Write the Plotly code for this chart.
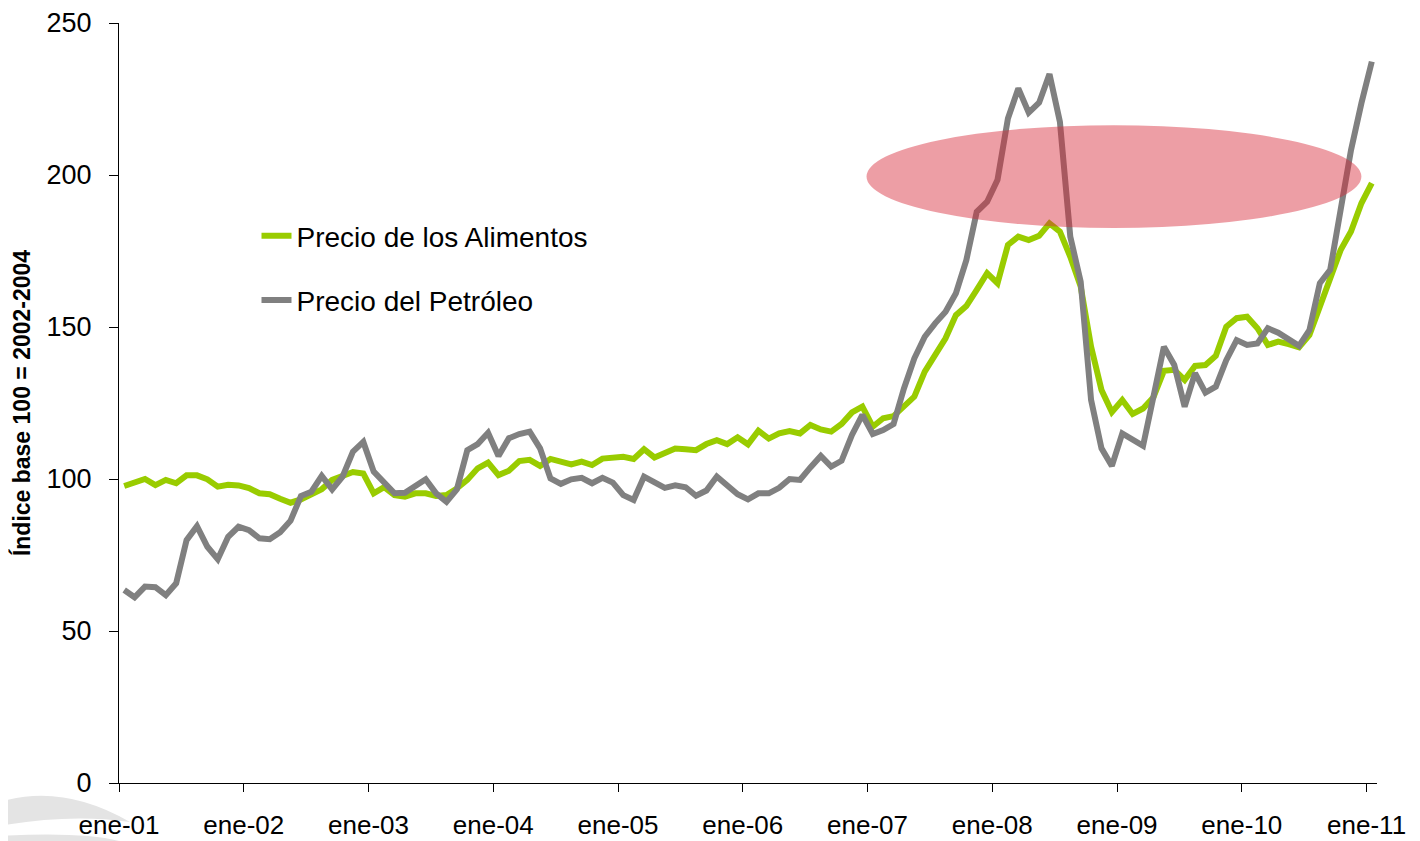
import plotly.graph_objects as go

# Month index 0 = ene-01 ... 120 = ene-11
tick_labels = ["ene-01", "ene-02", "ene-03", "ene-04", "ene-05", "ene-06",
               "ene-07", "ene-08", "ene-09", "ene-10", "ene-11"]

alimentos = [
    97.7, 98.6, 100.0, 98.0, 99.7, 98.6, 101.2, 101.2, 99.9, 97.5, 98.1, 97.9,
    97.0, 95.3, 95.0, 93.5, 92.2, 93.3, 94.8, 96.6, 99.7, 100.8, 102.3, 101.8,
    95.3, 97.3, 94.7, 94.2, 95.3, 95.3, 94.4, 94.7, 96.9, 99.7, 103.5, 105.4,
    101.3, 102.7, 105.9, 106.3, 104.3, 106.6, 105.5, 104.8, 105.7, 104.6, 106.7, 107.2,
    107.3, 106.6, 109.8, 107.1, 108.4, 110.0, 109.8, 109.5, 111.5, 112.8, 111.5, 113.7,
    111.4, 115.9, 113.3, 115.0, 115.8, 115.0, 117.8, 116.3, 115.6, 118.1, 121.9, 123.8,
    117.2, 120.0, 120.7, 123.8, 127.1, 135.3, 140.8, 146.3, 153.9, 156.9, 162.2, 167.7,
    164.4, 177.0, 179.7, 178.6, 180.0, 184.1, 181.4, 173.1, 163.3, 143.5, 129.3, 122.0,
    126.0, 121.4, 123.2, 126.9, 135.6, 135.9, 132.6, 137.2, 137.5, 140.5, 150.1, 152.9,
    153.4, 149.6, 144.1, 145.2, 144.4, 143.3, 147.4, 156.7, 166.0, 175.3, 181.4, 190.7,
    197.3,
]

petroleo = [
    63.5, 61.1, 64.6, 64.4, 61.8, 65.7, 79.9, 84.5, 77.7, 73.6, 81.0, 84.3,
    83.2, 80.5, 80.2, 82.5, 86.3, 94.4, 95.8, 101.0, 96.6, 100.8, 109.0, 112.2,
    102.4, 99.1, 95.3, 95.5, 98.0, 99.9, 95.3, 92.5, 96.6, 109.5, 111.5, 115.2,
    107.6, 113.4, 114.8, 115.6, 110.1, 100.2, 98.4, 99.9, 100.4, 98.6, 100.4, 98.8,
    94.7, 93.1, 100.8, 98.8, 97.1, 97.9, 97.3, 94.5, 96.2, 100.8, 98.0, 95.0,
    93.3, 95.3, 95.3, 97.1, 100.0, 99.7, 103.8, 107.6, 104.1, 106.0, 114.5, 121.1,
    114.8, 116.1, 118.1, 129.8, 139.7, 146.8, 151.2, 155.0, 161.1, 172.0, 187.9, 191.2,
    198.4, 218.6, 228.5, 220.5, 223.8, 233.2, 217.5, 179.7, 164.9, 126.0, 110.1, 104.3,
    115.0, 112.8, 110.9, 127.1, 143.5, 137.5, 123.8, 134.8, 128.4, 130.4, 139.1, 145.7,
    144.1, 144.6, 149.6, 148.1, 145.7, 143.8, 149.0, 164.4, 168.8, 189.6, 208.2, 223.6,
    237.3,
]

months = list(range(len(alimentos)))
tick_positions = [k * 12 - 0.5 for k in range(len(tick_labels))]

# highlighted zone (ellipse) in data units
zone_x = [71.4, 119.0]
zone_y = [182.6, 216.4]

fig = go.Figure()
fig.add_trace(go.Scatter(
    x=months, y=alimentos, mode="lines", name="Precio de los Alimentos",
    line=dict(color="#99CC00", width=6), legendgroup="a"))
fig.add_trace(go.Scatter(
    x=months, y=petroleo, mode="lines", name="Precio del Petróleo",
    line=dict(color="#808080", width=6), legendgroup="b"))

fig.add_shape(type="circle", xref="x", yref="y",
              x0=zone_x[0], x1=zone_x[1], y0=zone_y[0], y1=zone_y[1],
              fillcolor="rgba(215,40,55,0.45)", line=dict(width=0), layer="above")

# faint watermark swoosh bottom-left
fig.add_shape(type="path", xref="paper", yref="paper", layer="below",
              path="M -0.0946,-0.025 Q -0.045,0.0 0.0087,-0.0513 Q -0.04,-0.04 -0.0946,-0.0566 Z",
              fillcolor="rgb(228,228,228)", line=dict(width=0))
fig.add_shape(type="path", xref="paper", yref="paper", layer="below",
              path="M -0.0946,-0.0697 Q -0.03,-0.064 0.0,-0.0763 L -0.0946,-0.0763 Z",
              fillcolor="rgb(228,228,228)", line=dict(width=0))

# the page body has an 8px margin, so the figure is sized/offset to compensate
fig.update_layout(
    width=1412, height=833,
    margin=dict(l=111, r=43, t=15, b=58),
    paper_bgcolor="white", plot_bgcolor="white",
    font=dict(family="Liberation Sans, Arial, sans-serif", color="black", size=27),
    showlegend=True,
    legend=dict(x=0.1093, y=0.7526, xanchor="left", yanchor="top",
                font=dict(size=28), bgcolor="rgba(0,0,0,0)",
                tracegroupgap=25, itemwidth=30),
    xaxis=dict(range=[-0.5, 120.5], tickmode="array", tickvals=tick_positions,
               ticktext=tick_labels, showline=True, linecolor="black", linewidth=1,
               ticks="outside", ticklen=8, tickcolor="black", showgrid=False,
               zeroline=False, ticklabelstandoff=11, tickfont=dict(size=26),
               automargin=False),
    yaxis=dict(range=[0, 250], dtick=50, showline=True, linecolor="black", linewidth=1,
               ticks="outside", ticklen=9, tickcolor="black", showgrid=False,
               zeroline=False, ticklabelstandoff=12, tickfont=dict(size=27),
               automargin=False,
               title=dict(text="<b>Índice base 100 = 2002-2004</b>",
                          font=dict(size=23), standoff=9)),
)

fig.write_html("out.html")
